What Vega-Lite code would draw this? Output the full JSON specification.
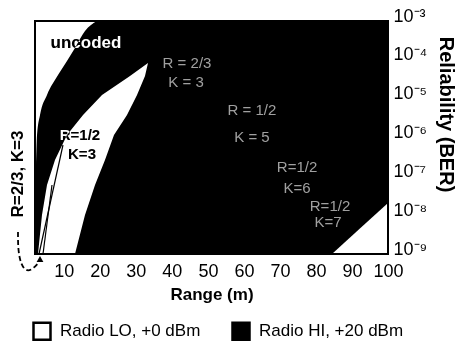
{
  "$schema": "https://vega.github.io/schema/vega-lite/v6.json",
  "width": 353,
  "height": 233,
  "autosize": {"type": "none"},
  "padding": {"left": 35, "top": 21, "right": 68, "bottom": 93},
  "background": "white",
  "config": {
    "font": "Liberation Sans",
    "view": {"stroke": null},
    "axis": {"grid": false, "ticks": false, "domain": false, "labelOverlap": false, "labelFlush": false, "labelColor": "black", "titleColor": "black", "labelFont": "Liberation Sans", "titleFont": "Liberation Sans"},
    "axisX": {"labelOverlap": false},
    "axisY": {"labelOverlap": false}
  },
  "datasets": {
    "hi": [{"x": 2, "x2": 100, "y": 1e-9, "y2": 0.001, "radio": "Radio HI, +20 dBm"}],
    "uncoded": [
      {"x": 2.0, "y": 7.1e-8, "radio": "Radio LO, +0 dBm"},
      {"x": 2.28, "y": 1.96e-7, "radio": "Radio LO, +0 dBm"},
      {"x": 2.56, "y": 1.16e-6, "radio": "Radio LO, +0 dBm"},
      {"x": 3.39, "y": 3.79e-6, "radio": "Radio LO, +0 dBm"},
      {"x": 5.33, "y": 1.24e-5, "radio": "Radio LO, +0 dBm"},
      {"x": 8.39, "y": 4.06e-5, "radio": "Radio LO, +0 dBm"},
      {"x": 10.88, "y": 9.33e-5, "radio": "Radio LO, +0 dBm"},
      {"x": 13.1, "y": 2.02e-4, "radio": "Radio LO, +0 dBm"},
      {"x": 15.88, "y": 5.52e-4, "radio": "Radio LO, +0 dBm"},
      {"x": 19.21, "y": 0.001, "radio": "Radio LO, +0 dBm"}
    ],
    "wedge": [
      {"y": 1e-9, "x": 2.83, "x2": 13.1, "radio": "Radio LO, +0 dBm"},
      {"y": 1.01e-8, "x": 3.94, "x2": 15.88, "radio": "Radio LO, +0 dBm"},
      {"y": 5.97e-8, "x": 5.33, "x2": 18.66, "radio": "Radio LO, +0 dBm"},
      {"y": 2.63e-7, "x": 7.55, "x2": 21.43, "radio": "Radio LO, +0 dBm"},
      {"y": 1.16e-6, "x": 10.88, "x2": 23.93, "radio": "Radio LO, +0 dBm"},
      {"y": 3.79e-6, "x": 15.33, "x2": 27.54, "radio": "Radio LO, +0 dBm"},
      {"y": 1.24e-5, "x": 20.6, "x2": 30.32, "radio": "Radio LO, +0 dBm"},
      {"y": 3.84e-5, "x": 28.37, "x2": 32.54, "radio": "Radio LO, +0 dBm"},
      {"y": 8.28e-5, "x": 33.37, "x2": 33.37, "radio": "Radio LO, +0 dBm"}
    ],
    "corner": [
      {"x": 84.45, "y": 1e-9, "radio": "Radio LO, +0 dBm"},
      {"x": 92.2, "y": 4.53e-9, "radio": "Radio LO, +0 dBm"},
      {"x": 100, "y": 2.06e-8, "radio": "Radio LO, +0 dBm"}
    ],
    "leaders": [
      {"id": "a", "x": 3.11, "y": 1e-9},
      {"id": "a", "x": 9.77, "y": 6.41e-7},
      {"id": "b", "x": 4.22, "y": 1e-9},
      {"id": "b", "x": 6.72, "y": 5.97e-8}
    ],
    "arrow": [
      {"i": 0, "x": -2.72, "y": 3.68e-9},
      {"i": 1, "x": -2.72, "y": 1.27e-9},
      {"i": 2, "x": -1.89, "y": 5.2e-10},
      {"i": 3, "x": -0.22, "y": 3.43e-10},
      {"i": 4, "x": 1.72, "y": 4.36e-10},
      {"i": 5, "x": 3.11, "y": 6.21e-10}
    ],
    "arrowhead": [{"x": 3.39, "y": 7.43e-10}],
    "uncodedLabel": [{"x": 16.16, "y": 2.71e-4, "t": "uncoded"}],
    "wedgeLabel": [
      {"x": 14.49, "y": 1.16e-6, "t": "R=1/2"},
      {"x": 15.05, "y": 3.76e-7, "t": "K=3"}
    ],
    "codeLabels": [
      {"x": 44.2, "y": 8.28e-5, "t": "R = 2/3"},
      {"x": 43.92, "y": 2.69e-5, "t": "K = 3"},
      {"x": 62.24, "y": 5.1e-6, "t": "R = 1/2"},
      {"x": 62.24, "y": 1.03e-6, "t": "K = 5"},
      {"x": 74.74, "y": 1.74e-7, "t": "R=1/2"},
      {"x": 74.74, "y": 5.0e-8, "t": "K=6"},
      {"x": 83.9, "y": 1.72e-8, "t": "R=1/2"},
      {"x": 83.34, "y": 6.67e-9, "t": "K=7"}
    ],
    "sideLabel": [{"x": -2.72, "y": 1.15e-7, "t": "R=2/3, K=3"}]
  },
  "encoding": {
    "x": {"field": "x", "type": "quantitative", "scale": {"domain": [2, 100], "nice": false, "zero": false},
          "axis": {"title": "Range (m)", "values": [10, 20, 30, 40, 50, 60, 70, 80, 90, 100], "labelOverlap": false, "labelFlush": false, "labelSeparation": 0, "labelFontSize": 18, "labelPadding": 8, "titleFontSize": 17, "titleFontWeight": "bold", "titlePadding": 6}},
    "y": {"field": "y", "type": "quantitative", "scale": {"type": "log", "domain": [1e-9, 0.001], "nice": false},
          "axis": {"orient": "right", "title": "Reliability  (BER)", "values": [1e-9, 1e-8, 1e-7, 1e-6, 1e-5, 1e-4, 0.001],
                   "labelOverlap": false, "labelFlush": false,
                   "labelExpr": "'10⁻' + ['⁰','¹','²','³','⁴','⁵','⁶','⁷','⁸','⁹'][round(-log(datum.value)/LN10)]",
                   "labelFontSize": 18, "labelPadding": 5, "labelOffset": -5, "labelAlign": "left", "labelBaseline": "middle",
                   "titleFontSize": 20, "titleFontWeight": "bold", "titleAngle": 90, "titleX": 57, "titleY": 93, "titleAlign": "center", "titleBaseline": "middle"}}
  },
  "layer": [
    {
      "data": {"name": "hi"},
      "mark": {"type": "rect"},
      "encoding": {
        "x2": {"field": "x2"},
        "y2": {"field": "y2"},
        "fill": {"field": "radio", "type": "nominal",
                 "scale": {"domain": ["Radio LO, +0 dBm", "Radio HI, +20 dBm"], "range": ["white", "black"]},
                 "legend": {"title": null, "orient": "none", "legendX": -3, "legendY": 300, "direction": "horizontal", "columns": 2, "columnPadding": 26,
                            "symbolType": "square", "symbolSize": 289, "symbolStrokeColor": "black", "symbolStrokeWidth": 2.5,
                            "labelFontSize": 17, "labelOffset": 8, "labelLimit": 300, "labelColor": "black", "padding": 0}}
      }
    },
    {
      "data": {"name": "uncoded"},
      "mark": {"type": "area", "interpolate": "monotone", "orient": "vertical"},
      "encoding": {
        "y2": {"datum": 0.001},
        "fill": {"field": "radio", "type": "nominal"}
      }
    },
    {
      "data": {"name": "wedge"},
      "mark": {"type": "area", "orient": "horizontal"},
      "encoding": {
        "x2": {"field": "x2"},
        "fill": {"field": "radio", "type": "nominal"}
      }
    },
    {
      "data": {"name": "corner"},
      "mark": {"type": "area", "orient": "vertical"},
      "encoding": {
        "y2": {"datum": 1e-9},
        "fill": {"field": "radio", "type": "nominal"}
      }
    },
    {
      "data": {"name": "leaders"},
      "mark": {"type": "line", "color": "black", "strokeWidth": 1.2},
      "encoding": {
        "detail": {"field": "id"}
      }
    },
    {
      "data": {"name": "arrow"},
      "mark": {"type": "line", "color": "black", "strokeWidth": 1.8, "strokeDash": [5, 3], "interpolate": "basis", "clip": false},
      "encoding": {
        "order": {"field": "i"}
      }
    },
    {
      "data": {"name": "arrowhead"},
      "mark": {"type": "point", "shape": "triangle-up", "filled": true, "color": "black", "size": 45, "opacity": 1, "clip": false}
    },
    {
      "data": {"name": "uncodedLabel"},
      "mark": {"type": "text", "fontSize": 17, "fontWeight": "bold", "color": "white", "blend": "difference"},
      "encoding": {
        "text": {"field": "t"}
      }
    },
    {
      "data": {"name": "wedgeLabel"},
      "mark": {"type": "text", "fontSize": 15, "fontWeight": "bold", "color": "white", "blend": "difference"},
      "encoding": {
        "text": {"field": "t"}
      }
    },
    {
      "data": {"name": "codeLabels"},
      "mark": {"type": "text", "fontSize": 15, "color": "#a0a0a0"},
      "encoding": {
        "text": {"field": "t"}
      }
    },
    {
      "data": {"name": "sideLabel"},
      "mark": {"type": "text", "fontSize": 17, "fontWeight": "bold", "color": "black", "angle": 270, "clip": false},
      "encoding": {
        "text": {"field": "t"}
      }
    },
    {
      "data": {"name": "hi"},
      "mark": {"type": "rect", "filled": false, "stroke": "black", "strokeWidth": 2},
      "encoding": {
        "x2": {"field": "x2"},
        "y2": {"field": "y2"}
      }
    }
  ]
}
